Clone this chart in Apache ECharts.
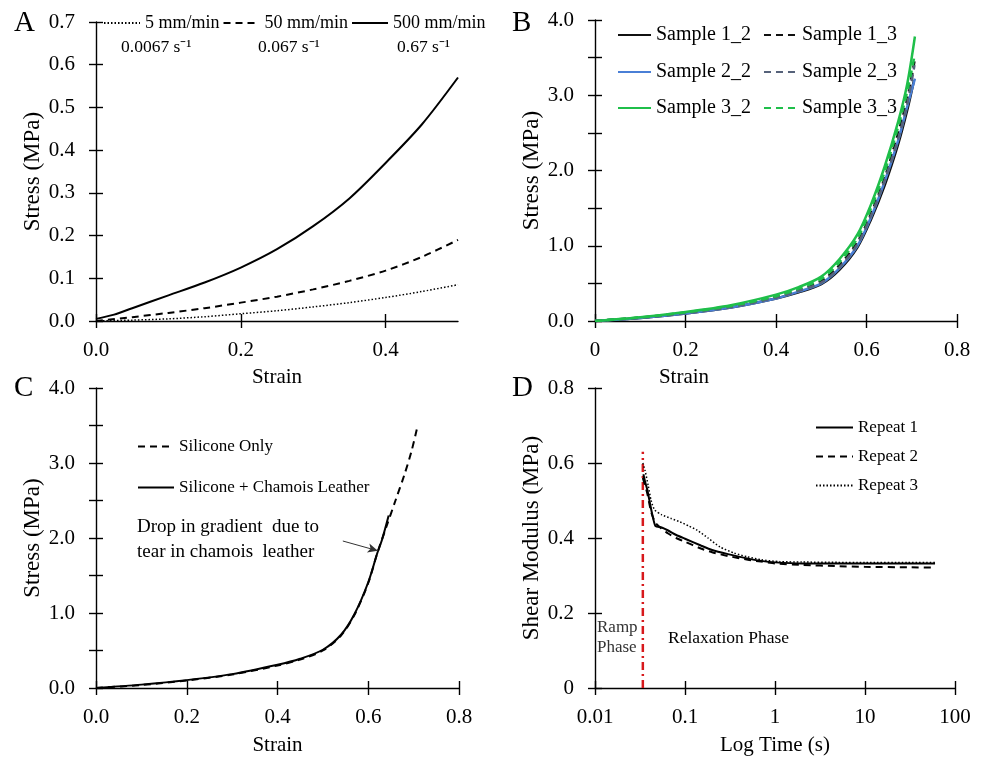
<!DOCTYPE html>
<html><head><meta charset="utf-8">
<script src="https://cdn.jsdelivr.net/npm/echarts@6/dist/echarts.min.js"></script>
<style>html,body{margin:0;padding:0;background:#fff}#c{width:983px;height:757px}</style>
</head><body><div id="c"></div>
<script>
// ---------- Panel A: rate dependence (strain, stress MPa)
const aSlow = [[0,0],[0.05,0.002],[0.1,0.005],[0.15,0.01],[0.2,0.017],[0.25,0.024],[0.3,0.033],[0.35,0.043],[0.4,0.055],[0.45,0.069],[0.5,0.085]];
const aMid = [[0,0],[0.05,0.009],[0.1,0.019],[0.15,0.03],[0.2,0.043],[0.25,0.057],[0.3,0.074],[0.35,0.094],[0.4,0.118],[0.45,0.15],[0.5,0.19]];
const aFast = [[0,0.005],[0.025,0.015],[0.05,0.03],[0.1,0.06],[0.15,0.09],[0.2,0.125],[0.25,0.168],[0.3,0.222],[0.35,0.287],[0.4,0.37],[0.45,0.46],[0.5,0.57]];
const aNames = ['5 mm/min','50 mm/min','500 mm/min'];
const aRates = ['0.0067 s\u207B\u00B9','0.067 s\u207B\u00B9','0.67 s\u207B\u00B9'];
// ---------- Panel B: samples
const b12 = [[0,0],[0.1,0.04],[0.2,0.1],[0.3,0.18],[0.4,0.3],[0.45,0.38],[0.5,0.49],[0.54,0.68],[0.58,0.98],[0.61,1.35],[0.64,1.8],[0.67,2.35],[0.69,2.8],[0.705,3.2]];
const b13 = [[0,0],[0.1,0.045],[0.2,0.11],[0.3,0.19],[0.4,0.32],[0.45,0.41],[0.5,0.53],[0.54,0.74],[0.58,1.05],[0.61,1.43],[0.64,1.9],[0.67,2.5],[0.69,2.95],[0.706,3.45]];
const b22 = [[0,0],[0.1,0.04],[0.2,0.1],[0.3,0.18],[0.4,0.3],[0.45,0.39],[0.5,0.5],[0.54,0.7],[0.58,1.0],[0.61,1.38],[0.64,1.85],[0.67,2.4],[0.69,2.85],[0.707,3.22]];
const b23 = [[0,0],[0.1,0.042],[0.2,0.105],[0.3,0.185],[0.4,0.31],[0.45,0.4],[0.5,0.51],[0.54,0.71],[0.58,1.02],[0.61,1.4],[0.64,1.86],[0.67,2.42],[0.69,2.88],[0.706,3.4]];
const b32 = [[0,0],[0.1,0.05],[0.2,0.12],[0.3,0.21],[0.4,0.35],[0.45,0.45],[0.5,0.59],[0.54,0.82],[0.58,1.15],[0.61,1.55],[0.64,2.05],[0.67,2.65],[0.69,3.15],[0.707,3.78]];
const b33 = [[0,0],[0.1,0.048],[0.2,0.115],[0.3,0.2],[0.4,0.33],[0.45,0.43],[0.5,0.56],[0.54,0.78],[0.58,1.1],[0.61,1.5],[0.64,1.98],[0.67,2.58],[0.69,3.05],[0.707,3.55]];
const bNames = ['Sample 1_2','Sample 1_3','Sample 2_2','Sample 2_3','Sample 3_2','Sample 3_3'];
// ---------- Panel C
const cSil = [[0,0],[0.1,0.04],[0.2,0.1],[0.3,0.18],[0.4,0.3],[0.45,0.38],[0.5,0.5],[0.54,0.7],[0.57,0.98],[0.6,1.4],[0.62,1.8],[0.64,2.15],[0.66,2.5],[0.68,2.85],[0.695,3.15],[0.707,3.45]];
const cCham = [[0,0],[0.1,0.045],[0.2,0.105],[0.3,0.185],[0.4,0.31],[0.45,0.39],[0.5,0.51],[0.54,0.71],[0.57,0.99],[0.6,1.41],[0.62,1.8],[0.63,1.97],[0.645,2.3]];
const cNames = ['Silicone Only','Silicone + Chamois Leather'];
const cNote = 'Drop in gradient  due to\ntear in chamois  leather';
// ---------- Panel D: relaxation (time s, shear modulus MPa)
const dR1 = [[0.0345,0.57],[0.036,0.55],[0.038,0.53],[0.041,0.49],[0.044,0.455],[0.047,0.432],[0.055,0.428],[0.065,0.42],[0.08,0.408],[0.1,0.398],[0.15,0.38],[0.2,0.368],[0.3,0.357],[0.5,0.345],[0.7,0.339],[1,0.335],[2,0.332],[5,0.332],[10,0.332],[30,0.332],[60,0.332]];
const dR2 = [[0.034,0.56],[0.038,0.52],[0.042,0.47],[0.047,0.44],[0.055,0.425],[0.065,0.412],[0.08,0.4],[0.1,0.39],[0.15,0.372],[0.2,0.362],[0.3,0.352],[0.5,0.342],[0.7,0.337],[1,0.332],[2,0.328],[5,0.325],[10,0.323],[30,0.322],[60,0.321]];
const dR3 = [[0.034,0.6],[0.036,0.58],[0.039,0.54],[0.042,0.5],[0.046,0.475],[0.055,0.462],[0.07,0.452],[0.088,0.443],[0.11,0.432],[0.136,0.421],[0.18,0.4],[0.245,0.376],[0.35,0.36],[0.49,0.35],[0.7,0.342],[1.13,0.337],[2,0.336],[5,0.335],[10,0.335],[30,0.335],[60,0.335]];
const dRamp = [[0.034,0],[0.034,0.63]];
const dNames = ['Repeat 1','Repeat 2','Repeat 3'];

const FF = '"Liberation Serif","Times New Roman",serif';
const chart = echarts.init(document.getElementById('c'));

const grids = [
  {left:96, top:22, width:362, height:299},
  {left:595, top:20, width:362, height:301},
  {left:96, top:388, width:363, height:300},
  {left:595, top:388, width:360, height:300}
];
const lineAx = {lineStyle:{color:'#000', width:1.4}};
const xl = {color:'#000', fontFamily:FF, fontSize:21, margin:19};
const yl = {color:'#000', fontFamily:FF, fontSize:21, margin:21};
const xDefs = [
  {type:'value', min:0, max:0.5, interval:0.2, name:'Strain', nameGap:46,
   axisLabel:{...xl, customValues:[0,0.2,0.4], formatter:v=>v.toFixed(1)}, axisTick:{customValues:[0,0.2,0.4]}},
  {type:'value', min:0, max:0.8, interval:0.2, name:'Strain', nameGap:46, namePad:[0,184,0,0],
   axisLabel:{...xl, formatter:v=>v===0?'0':v.toFixed(1)}},
  {type:'value', min:0, max:0.8, interval:0.2, name:'Strain', nameGap:47,
   axisLabel:{...xl, formatter:v=>v.toFixed(1)}},
  {type:'log', logBase:10, min:0.01, max:100, name:'Log Time (s)', nameGap:47,
   axisLabel:{...xl, formatter:v=>String(+v.toPrecision(3))}}
];
const yDefs = [
  {type:'value', min:0, max:0.7, interval:0.1, name:'Stress (MPa)', nameGap:50, axisLabel:{...yl, formatter:v=>v.toFixed(1)}},
  {type:'value', min:0, max:4, interval:0.5, name:'Stress (MPa)', nameGap:49, axisLabel:{...yl, formatter:v=>(v%1===0?v.toFixed(1):'')}},
  {type:'value', min:0, max:4, interval:0.5, name:'Stress (MPa)', nameGap:50, axisLabel:{...yl, formatter:v=>(v%1===0?v.toFixed(1):'')}},
  {type:'value', min:0, max:0.8, interval:0.2, name:'Shear Modulus (MPa)', nameGap:49, axisLabel:{...yl, formatter:v=>v===0?'0':v.toFixed(1)}}
];
const xAxis = [], yAxis = [];
function mk(d, i, overlay, isX){
  const ax = {gridIndex:i, type:d.type, min:d.min, max:d.max, splitLine:{show:false},
    position:isX?'bottom':'left', offset:0};
  if (d.interval) ax.interval = d.interval;
  if (d.logBase) ax.logBase = d.logBase;
  const tick = Object.assign({show:true, length:7, lineStyle:{color:'#000', width:1.4}}, d.axisTick||{});
  if (overlay){
    ax.axisLine = {show:false}; ax.axisLabel = {show:false};
    ax.axisTick = Object.assign(tick, {inside:true});
  } else {
    ax.axisLine = lineAx; ax.axisLabel = d.axisLabel; ax.axisTick = tick;
    ax.name = d.name; ax.nameLocation = 'middle'; ax.nameGap = d.nameGap;
    ax.nameTextStyle = {color:'#000', fontFamily:FF, fontSize:isX?21:23};
    if (d.namePad) ax.nameTextStyle.padding = d.namePad;
  }
  return ax;
}
for (let i=0;i<4;i++){ xAxis.push(mk(xDefs[i],i,false,true)); yAxis.push(mk(yDefs[i],i,false,false)); }
for (let i=0;i<4;i++){ xAxis.push(mk(xDefs[i],i,true,true)); yAxis.push(mk(yDefs[i],i,true,false)); }

function ser(name, data, gi, color, width, type, extra){
  return Object.assign({name, type:'line', data, xAxisIndex:gi, yAxisIndex:gi, symbol:'none', smooth:0.3,
    lineStyle:{color, width, type}, itemStyle:{color}, z:3, animation:false}, extra||{});
}
const dashA = [7,5], dotA = [1.5,2];
const series = [
  ser(aNames[0], aSlow, 0, '#000', 1.5, dotA),
  ser(aNames[1], aMid, 0, '#000', 2, dashA),
  ser(aNames[2], aFast, 0, '#000', 2, 'solid'),
  ser(bNames[0], b12, 1, '#111', 2.5, 'solid'),
  ser(bNames[1], b13, 1, '#111', 2.5, [7,5]),
  ser(bNames[2], b22, 1, '#4a7fd6', 2.5, 'solid'),
  ser(bNames[3], b23, 1, '#56627a', 2.5, [7,5]),
  ser(bNames[4], b32, 1, '#1fbf4a', 2.5, 'solid'),
  ser(bNames[5], b33, 1, '#1fbf4a', 2.5, [7,5]),
  ser(cNames[0], cSil, 2, '#000', 2, [7,5], {
    markLine:{silent:true, animation:false, symbol:['none','arrow'], symbolSize:[7,10],
      lineStyle:{color:'#333', width:1, type:'solid'}, label:{show:false},
      data:[[{coord:[0.544,1.96]},{coord:[0.621,1.83]}]]}}),
  ser(cNames[1], cCham, 2, '#000', 2, 'solid'),
  ser('ramp', dRamp, 3, '#d7191c', 2.5, [8,4,2,4], {smooth:false}),
  ser(dNames[0], dR1, 3, '#000', 2, 'solid', {smooth:0.2}),
  ser(dNames[1], dR2, 3, '#000', 2, [7,5], {smooth:0.2}),
  ser(dNames[2], dR3, 3, '#000', 1.5, [1.5,2], {smooth:0.2})
];
const lt = (fs)=>({color:'#000', fontFamily:FF, fontSize:fs});
const LG = {selectedMode:false, padding:0, itemHeight:12, itemStyle:{opacity:0, borderWidth:0}};
const legend = [
  {...LG, data:aNames, left:103, top:14, itemWidth:36, itemGap:3, textStyle:lt(18)},
  {...LG, data:bNames.slice(0,2), left:617, top:25, itemWidth:33, itemGap:12, textStyle:lt(20)},
  {...LG, data:bNames.slice(2,4), left:617, top:62, itemWidth:33, itemGap:12, textStyle:lt(20)},
  {...LG, data:bNames.slice(4,6), left:617, top:98, itemWidth:33, itemGap:12, textStyle:lt(20)},
  {...LG, data:cNames, orient:'vertical', left:137, top:438, itemWidth:36, itemGap:24, textStyle:lt(17)},
  {...LG, data:dNames, orient:'vertical', left:815, top:419, itemWidth:37, itemGap:12, textStyle:lt(17)}
];
const txt = (text, left, top, fs, color, extra)=>({type:'text', left, top, style:Object.assign({text, fill:color||'#000', font:fs+'px '+FF}, extra||{})});
const graphic = [
  txt('A', 14, 9, 29), txt('B', 512, 9, 29), txt('C', 14, 374, 29), txt('D', 512, 374, 29),
  txt(aRates[0], 121, 38, 17.5), txt(aRates[1], 258, 38, 17.5), txt(aRates[2], 397, 38, 17.5),
  txt(cNote, 137, 515, 19, '#000', {lineHeight:25}),
  txt('Ramp\nPhase', 597, 618, 17, '#333', {lineHeight:20}),
  txt('Relaxation Phase', 668, 629, 17.5)
];
chart.setOption({animation:false, backgroundColor:'#fff', grid:grids, xAxis, yAxis, series, legend, graphic});
</script></body></html>
